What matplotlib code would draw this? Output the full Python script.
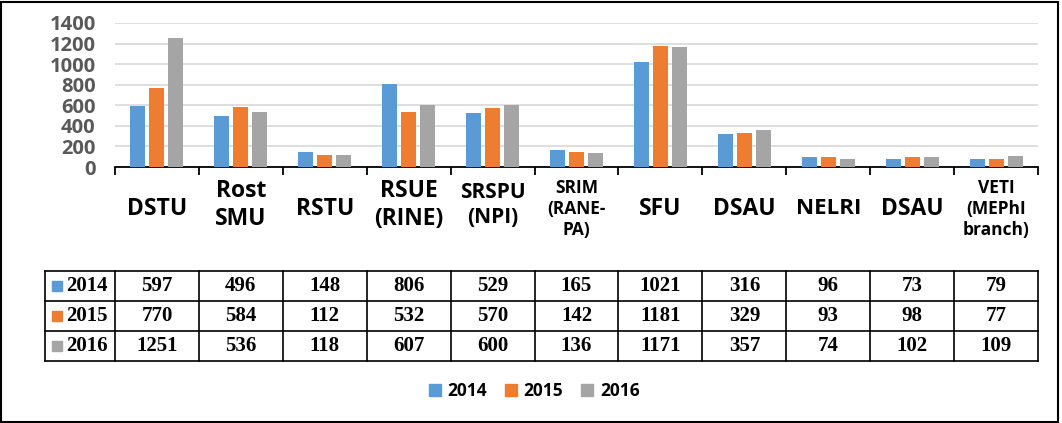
import numpy as np
import matplotlib
matplotlib.use("Agg")
import matplotlib.pyplot as plt
from matplotlib.patches import Rectangle, Patch

# data
categories = ["DSTU", "Rost\nSMU", "RSTU", "RSUE\n(RINE)", "SRSPU\n(NPI)", "SRIM\n(RANE-\nPA)",
              "SFU", "DSAU", "NELRI", "DSAU", "VETI\n(MEPhI\nbranch)"]
label_sizes = [16.5, 16.5, 16.5, 16.5, 15, 12.5, 16.5, 16.5, 16, 16.5, 12.5]
years = ["2014", "2015", "2016"]
v2014 = [597, 496, 148, 806, 529, 165, 1021, 316, 96, 73, 79]
v2015 = [770, 584, 112, 532, 570, 142, 1181, 329, 93, 98, 77]
v2016 = [1251, 536, 118, 607, 600, 136, 1171, 357, 74, 102, 109]
yticks = [0, 200, 400, 600, 800, 1000, 1200, 1400]

colors = ["#5B9BD5", "#ED7D31", "#A5A5A5"]
series = [v2014, v2015, v2016]

W, H = 1062, 423
fig = plt.figure(figsize=(W / 100, H / 100), dpi=100)

def px(x0, y_top, x1, y_bot):
    # pixel box -> figure fraction rect
    return [x0 / W, 1 - y_bot / H, (x1 - x0) / W, (y_bot - y_top) / H]

ax = fig.add_axes(px(115, 23, 1038, 167))
x = np.arange(len(categories))
bw = 15 / 84
step = 19 / 84
for k, (vals, c) in enumerate(zip(series, colors)):
    ax.bar(x + (k - 1) * step, vals, width=bw, color=c, zorder=3)

ax.set_xlim(-0.5, len(categories) - 0.5)
ax.set_ylim(0, 1400)
ax.set_yticks(yticks)
ax.set_yticklabels([str(t) for t in yticks], fontsize=14.5, fontweight="bold",
                   color="#595959", family="Open Sans")
ax.tick_params(axis="y", length=0, pad=14)
ax.grid(axis="y", color="#D9D9D9", linewidth=1.2, zorder=0)
for s in ["top", "right", "left"]:
    ax.spines[s].set_visible(False)
ax.spines["bottom"].set_linewidth(1.3)
ax.set_xticks(np.arange(len(categories) + 1) - 0.5)
ax.set_xticklabels([])
ax.tick_params(axis="x", length=6, width=1.3, direction="out")

# category labels under the axis
trans = matplotlib.transforms.blended_transform_factory(ax.transData, fig.transFigure)
for i, (lab, fs) in enumerate(zip(categories, label_sizes)):
    yc = 209 if lab.count("\n") != 1 else 205
    ax.text(i, 1 - yc / H, lab, transform=trans, ha="center", va="center",
            fontsize=fs, fontweight="bold", family="Open Sans", linespacing=1.2)

# data table
tab = fig.add_axes(px(115, 271, 1038, 361))
tab.set_xlim(-0.5, len(categories) - 0.5)
tab.set_ylim(0, 3)
tab.axis("off")
hx = -0.5 - 70 / 84
lw = 1.2
for yy in [0, 1, 2, 3]:
    tab.plot([hx, len(categories) - 0.5], [yy, yy], color="black", lw=lw, clip_on=False)
for xx in [hx] + list(np.arange(len(categories) + 1) - 0.5):
    tab.plot([xx, xx], [0, 3], color="black", lw=lw, clip_on=False)
for r, (yr, vals, c) in enumerate(zip(years, series, colors)):
    yc = 2.5 - r
    tab.add_patch(Rectangle((hx + 7 / 84, yc - 0.17), 10 / 84, 0.34, color=c, clip_on=False))
    tab.text(hx + 21 / 84, yc, yr, ha="left", va="center", fontsize=15,
             fontweight="bold", family="Liberation Serif")
    for i, v in enumerate(vals):
        tab.text(i, yc, str(v), ha="center", va="center", fontsize=15,
                 fontweight="bold", family="Liberation Serif")

handles = [Patch(color=c, label=y) for y, c in zip(years, colors)]
leg = fig.legend(handles=handles, loc="center", bbox_to_anchor=(534 / W, 1 - 391 / H),
                 ncol=3, frameon=False, handlelength=0.7, handleheight=0.7,
                 handletextpad=0.4, columnspacing=1.0,
                 prop={"family": "Open Sans", "weight": "bold", "size": 12.5})

fig.patches.append(Rectangle((1 / W, 1 / H), (W - 5) / W, (H - 3) / H, fill=False,
                             edgecolor="black", lw=1.5, transform=fig.transFigure))

fig.savefig("out.png", dpi=100)
